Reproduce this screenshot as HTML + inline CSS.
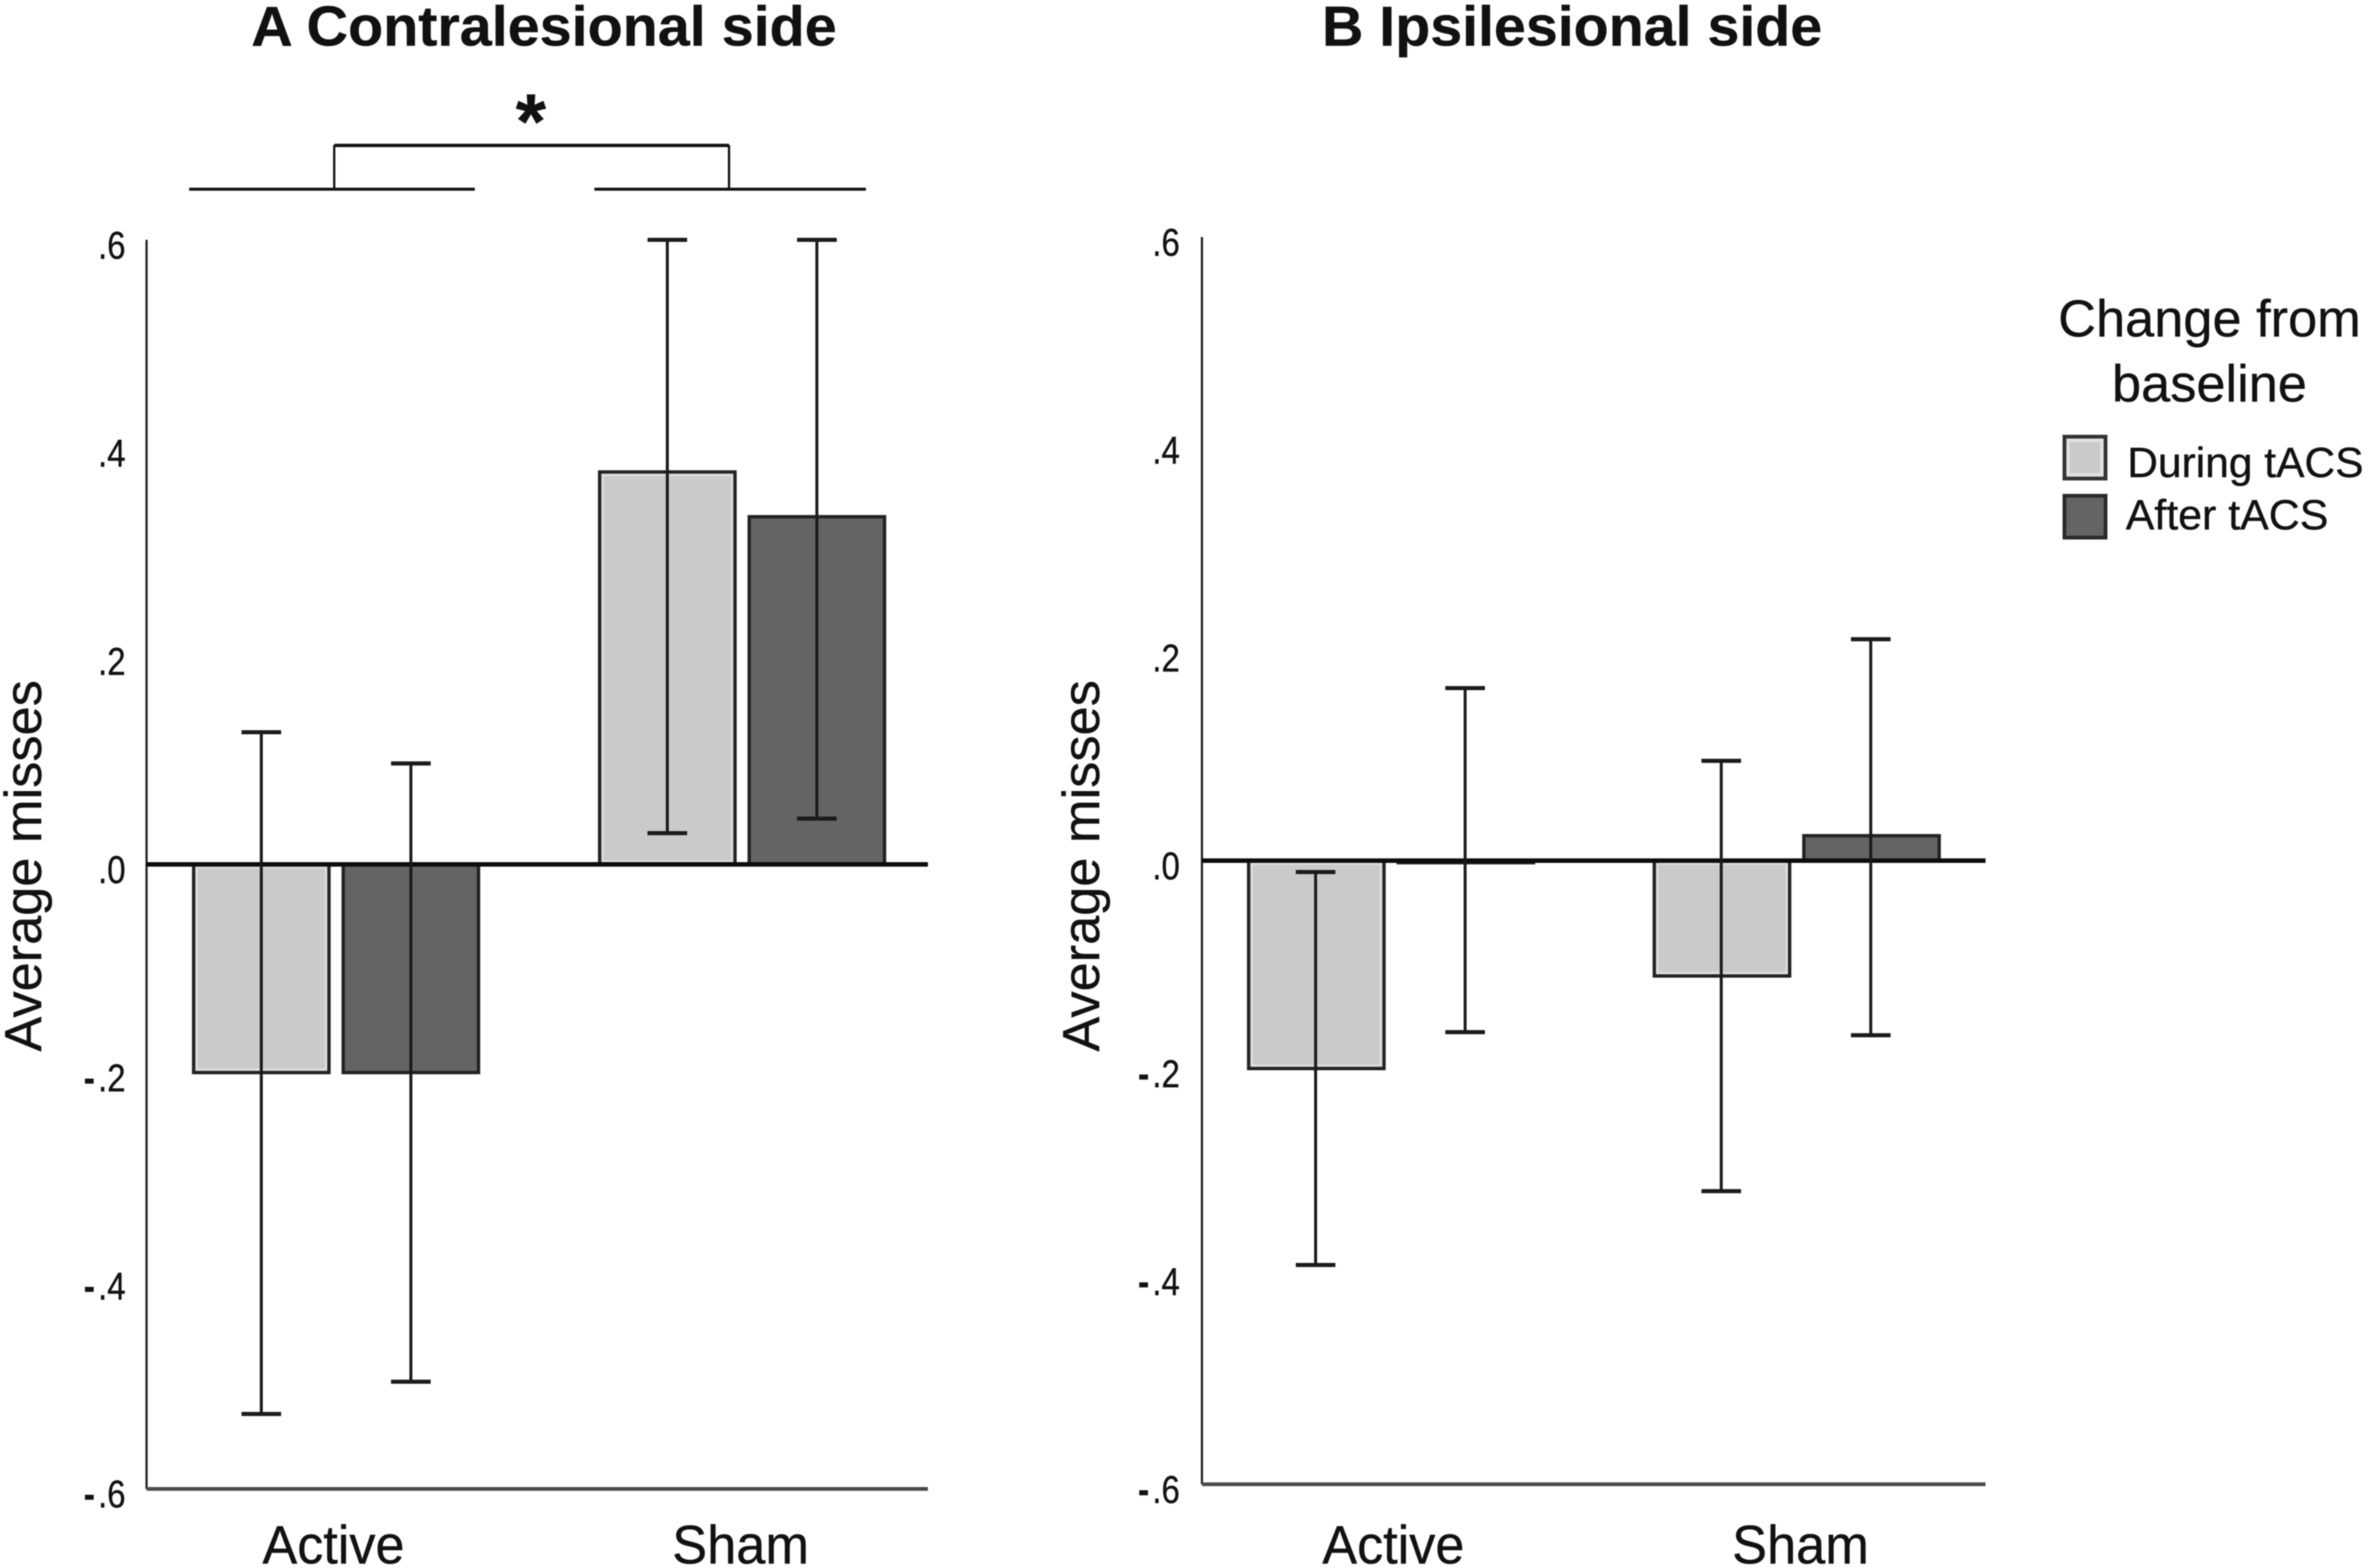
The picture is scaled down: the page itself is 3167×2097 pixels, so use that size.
<!DOCTYPE html>
<html lang="en">
<head>
<meta charset="utf-8">
<title>Average misses: contralesional and ipsilesional side</title>
<style>
  html, body { margin: 0; padding: 0; background: #fff; }
  svg { display: block; font-family: "Liberation Sans", sans-serif; filter: blur(0.7px); }
  text { fill: #111; stroke: #111; stroke-width: 0.5; }
</style>
</head>
<body>
<svg id="figure" xmlns="http://www.w3.org/2000/svg" width="3167" height="2097" viewBox="0 0 3167 2097">
  <rect x="0" y="0" width="3167" height="2097" fill="#ffffff"/>

  <text x="336" y="61" font-size="75" font-weight="bold" textLength="783" lengthAdjust="spacingAndGlyphs">A Contralesional side</text>
  <text x="1768" y="61" font-size="75" font-weight="bold" textLength="669" lengthAdjust="spacingAndGlyphs">B Ipsilesional side</text>

  <g stroke="#111" fill="none">
    <line x1="447" y1="194.5" x2="975" y2="194.5" stroke-width="4.5"/>
    <line x1="447" y1="194" x2="447" y2="253" stroke-width="3"/>
    <line x1="975" y1="194" x2="975" y2="253" stroke-width="3"/>
    <line x1="253" y1="253" x2="635" y2="253" stroke-width="4"/>
    <line x1="795" y1="253" x2="1158" y2="253" stroke-width="4"/>
  </g>
  <text x="710" y="198" font-size="104" font-weight="bold" text-anchor="middle">*</text>

  <text transform="translate(55,1158) rotate(-90)" font-size="70" text-anchor="middle">Average misses</text>
  <text transform="translate(1470,1158) rotate(-90)" font-size="70" text-anchor="middle">Average misses</text>

  <g id="panel-a"></g>
  <g id="panel-b"></g>

  <g>
    <text x="2955" y="450" font-size="70" text-anchor="middle">Change from</text>
    <text x="2955" y="537" font-size="70" text-anchor="middle">baseline</text>
    <g>
      <rect x="2761" y="584" width="55" height="56" fill="#cacaca" stroke="#333" stroke-width="5"/>
      <rect x="2766" y="589" width="45" height="46" fill="none" stroke="#e2e2e2" stroke-width="4"/>
      <text x="2845" y="638" font-size="57" textLength="316" lengthAdjust="spacingAndGlyphs">During tACS</text>
    </g>
    <g>
      <rect x="2761" y="663" width="55" height="56" fill="#646464" stroke="#2a2a2a" stroke-width="5"/>
      <text x="2843" y="708" font-size="57" textLength="271" lengthAdjust="spacingAndGlyphs">After tACS</text>
    </g>
  </g>
</svg>

<script>
// Chart data
const categories = ['Active', 'Sham'];
const yTicks = [0.6, 0.4, 0.2, 0, -0.2, -0.4, -0.6];
const yTickLabels = ['.6', '.4', '.2', '.0', '-.2', '-.4', '-.6'];

const panelADuring = [-0.2, 0.377];
const panelAAfter = [-0.2, 0.334];
const panelADuringLow = [-0.528, 0.03];
const panelADuringHigh = [0.127, 0.6];
const panelAAfterLow = [-0.497, 0.044];
const panelAAfterHigh = [0.097, 0.6];

const panelBDuring = [-0.2, -0.111];
const panelBAfter = [-0.002, 0.024];
const panelBDuringLow = [-0.389, -0.318];
const panelBDuringHigh = [-0.011, 0.096];
const panelBAfterLow = [-0.165, -0.168];
const panelBAfterHigh = [0.166, 0.213];

const SVG_NS = 'http://www.w3.org/2000/svg';

function shape(parent, tag, attrs) {
  const el = document.createElementNS(SVG_NS, tag);
  Object.keys(attrs).forEach(function (k) { el.setAttribute(k, attrs[k]); });
  parent.appendChild(el);
  return el;
}

function drawPanel(root, prefix, layout, during, after, duringLow, duringHigh, afterLow, afterHigh) {
  const yScale = function (v) { return layout.zeroY - v * layout.pxPerUnit; };
  const groupX = function (i) { return layout.firstGroup + i * layout.groupStep; };
  const barOffset = 100;
  const barWidth = 181;
  const capHalf = 26.5;

  // Y axis line
  const yAxis = shape(root, 'line', { x1: layout.axisX, y1: yScale(0.6), x2: layout.axisX, y2: yScale(-0.6), stroke: '#222', 'stroke-width': 3 });
  
  

  // Bottom axis line
  const xAxis = shape(root, 'line', { x1: layout.axisX, y1: yScale(-0.6), x2: layout.axisEnd, y2: yScale(-0.6), stroke: '#4a4a4a', 'stroke-width': 5 });
  
  

  // Y tick labels
  yTicks.forEach(function (tick, i) {
    const label = yTickLabels[i];
    const t = shape(root, 'text', {
      transform: 'translate(' + layout.labelX + ',' + (yScale(tick) + 25) + ') scale(0.85,1)',
      'font-size': 52,
      'text-anchor': 'end'
    });
    
    
    if (label.charAt(0) === '-') {
      const minus = shape(t, 'tspan', { 'font-weight': 'bold' });
      minus.textContent = '-';
      const rest = shape(t, 'tspan', { dx: 5 });
      rest.textContent = label.slice(1);
    } else {
      t.textContent = label;
    }
  });

  // Bars
  const series = [
    { key: 'during', values: during, fill: '#cacaca', ring: '#dedede', stroke: '#222', sign: -1 },
    { key: 'after', values: after, fill: '#646464', ring: null, stroke: '#222', sign: 1 }
  ];
  series.forEach(function (s) {
    s.values.forEach(function (v, i) {
      const cx = groupX(i) + s.sign * barOffset;
      const top = Math.min(yScale(v), yScale(0));
      const h = Math.abs(yScale(v) - yScale(0));
      const bar = shape(root, 'rect', { x: cx - barWidth / 2, y: top, width: barWidth, height: h, fill: s.fill, stroke: s.stroke, 'stroke-width': 4.5 });
      
      
      if (s.ring && h > 8) {
        const ring = shape(root, 'rect', { x: cx - barWidth / 2 + 4, y: top + 4, width: barWidth - 8, height: h - 8, fill: 'none', stroke: s.ring, 'stroke-width': 3 });
        
        
      }
    });
  });

  // Zero line
  const zeroLine = shape(root, 'line', { x1: layout.axisX, y1: yScale(0), x2: layout.axisEnd, y2: yScale(0), stroke: '#0c0c0c', 'stroke-width': 6 });
  
  

  // Error bars
  const errorSets = [
    { key: 'during', low: duringLow, high: duringHigh, sign: -1 },
    { key: 'after', low: afterLow, high: afterHigh, sign: 1 }
  ];
  errorSets.forEach(function (s) {
    s.low.forEach(function (lowValue, i) {
      const cx = groupX(i) + s.sign * barOffset + layout.errorShift;
      const yLow = yScale(lowValue);
      const yHigh = yScale(s.high[i]);
      const stem = shape(root, 'line', { x1: cx, y1: yHigh, x2: cx, y2: yLow, stroke: '#1a1a1a', 'stroke-width': 4 });
      
      
      const capTop = shape(root, 'line', { x1: cx - capHalf, y1: yHigh, x2: cx + capHalf, y2: yHigh, stroke: '#1a1a1a', 'stroke-width': 5.5 });
      
      
      const capBottom = shape(root, 'line', { x1: cx - capHalf, y1: yLow, x2: cx + capHalf, y2: yLow, stroke: '#1a1a1a', 'stroke-width': 5.5 });
      
      
    });
  });

  // Category labels
  categories.forEach(function (name, i) {
    const lbl = shape(root, 'text', {
      x: groupX(i) + layout.catShift[i],
      y: 2091,
      'font-size': 72,
      'text-anchor': 'middle',
      textLength: name === 'Active' ? 190 : 183,
      lengthAdjust: 'spacingAndGlyphs'
    });
    lbl.textContent = name;
    
    
  });
}

drawPanel(document.getElementById('panel-a'), 'panel-a',
  { zeroY: 1156, pxPerUnit: 1392, axisX: 196, axisEnd: 1241, labelX: 168, firstGroup: 449.5, groupStep: 543, errorShift: 0, catShift: [-3.5, -2] },
  panelADuring, panelAAfter, panelADuringLow, panelADuringHigh, panelAAfterLow, panelAAfterHigh);

drawPanel(document.getElementById('panel-b'), 'panel-b',
  { zeroY: 1151, pxPerUnit: 1390, axisX: 1607.5, axisEnd: 2655.5, labelX: 1578, firstGroup: 1860.5, groupStep: 542.5, errorShift: -1, catShift: [3, 5] },
  panelBDuring, panelBAfter, panelBDuringLow, panelBDuringHigh, panelBAfterLow, panelBAfterHigh);
</script>
</body>
</html>
